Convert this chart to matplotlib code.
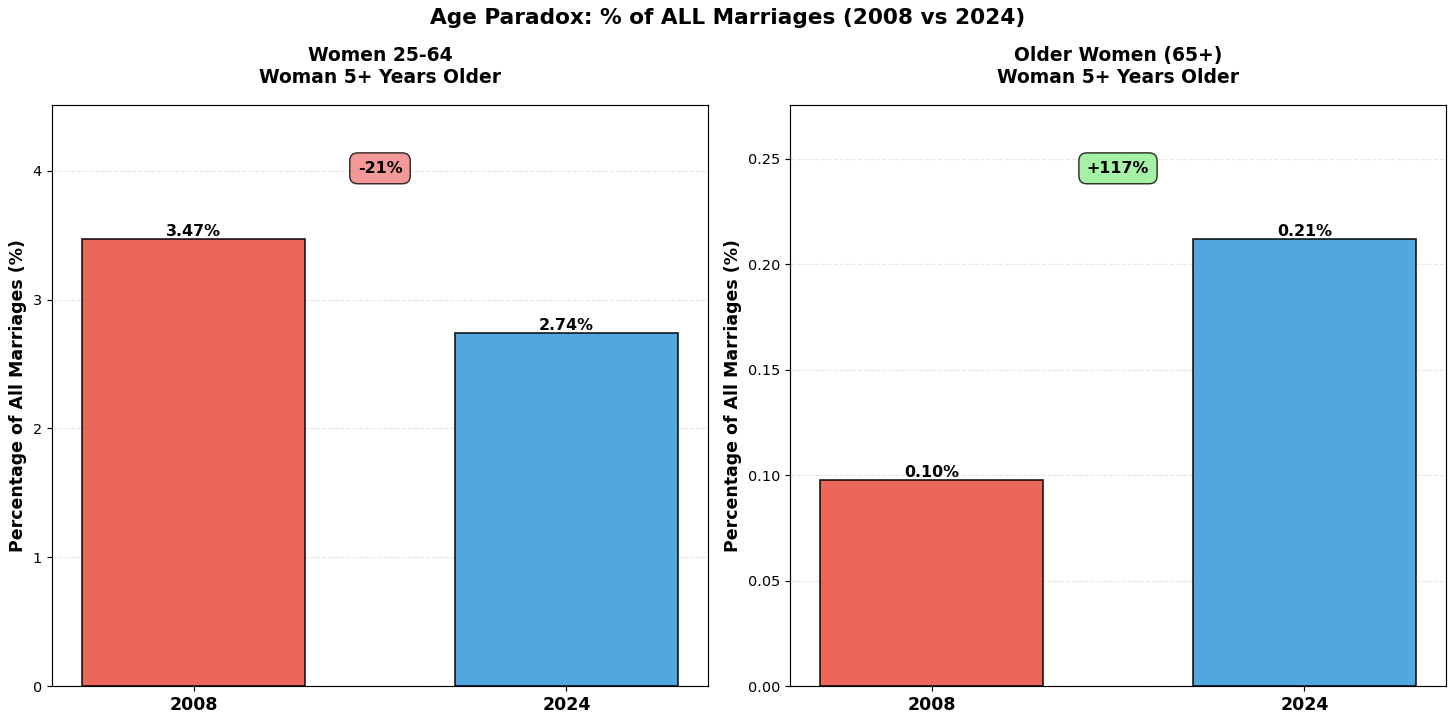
import matplotlib
matplotlib.use("Agg")
import matplotlib.pyplot as plt

years = ["2008", "2024"]
young_vals = [3.47, 2.74]
older_vals = [0.0977, 0.212]
titles = ["Women 25-64\nWoman 5+ Years Older", "Older Women (65+)\nWoman 5+ Years Older"]
colors = ["#e74c3c", "#3498db"]

fig, axes = plt.subplots(1, 2, figsize=(14, 6.952), dpi=104)

for ax, vals, title in zip(axes, [young_vals, older_vals], titles):
    x = range(len(years))
    bars = ax.bar(x, vals, width=0.6, color=colors, alpha=0.85, edgecolor="black", linewidth=1.2)
    ax.set_xticks(list(x))
    ax.set_xticklabels(years, fontsize=12, fontweight="bold")
    ax.set_ylabel("Percentage of All Marriages (%)", fontsize=12, fontweight="bold")
    ax.set_title(title, fontsize=13, fontweight="bold", pad=15)
    ax.set_ylim(0, max(vals) * 1.3)
    ax.grid(axis="y", linestyle="--", alpha=0.3)
    ax.set_axisbelow(True)
    for b, v in zip(bars, vals):
        ax.text(b.get_x() + b.get_width() / 2, v, f"{v:.2f}%", ha="center", va="bottom",
                fontsize=11, fontweight="bold")
    change = (vals[1] - vals[0]) / vals[0] * 100
    fc = "lightgreen" if change > 0 else "lightcoral"
    ax.text(0.5, 0.891, f"{change:+.0f}%", transform=ax.transAxes, ha="center", va="center",
            fontsize=11, fontweight="bold",
            bbox=dict(boxstyle="round,pad=0.5", facecolor=fc, alpha=0.8, edgecolor="black"))

fig.suptitle("Age Paradox: % of ALL Marriages (2008 vs 2024)", fontsize=15, fontweight="bold",
             y=0.975, va="center")
fig.subplots_adjust(left=52 / 1456, right=1446 / 1456, bottom=1 - 686 / 723, top=1 - 105 / 723,
                    wspace=0.125)
fig.savefig("out.png", dpi=104)
